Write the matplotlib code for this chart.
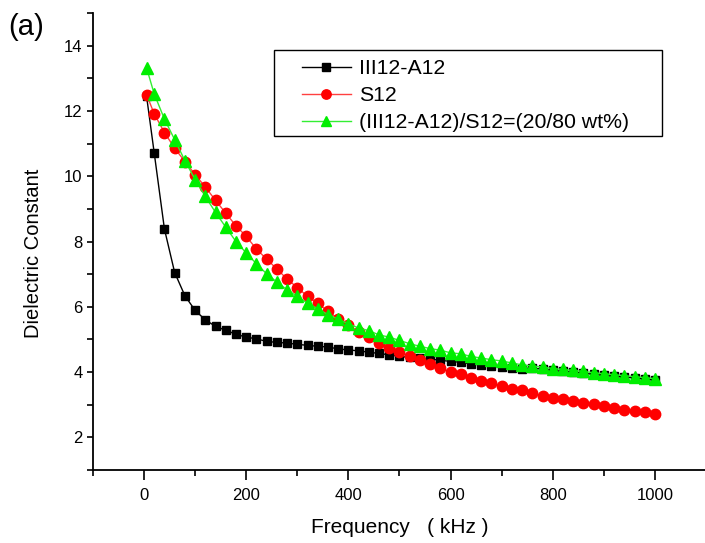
import numpy as np
import matplotlib
matplotlib.use("Agg")
import matplotlib.pyplot as plt
from matplotlib.ticker import MultipleLocator
from matplotlib.patches import Rectangle

plt.rcParams['font.family'] = ['Liberation Sans', 'DejaVu Sans']

# frequency (kHz)
freq = [5] + list(range(20, 1001, 20))

# III12-A12
eps_a = [12.45, 10.71, 8.38, 7.05, 6.34, 5.89, 5.60, 5.40, 5.28, 5.16,
         5.07, 5.02, 4.94, 4.91, 4.89, 4.85, 4.82, 4.79, 4.77, 4.71,
         4.68, 4.65, 4.61, 4.57, 4.53, 4.48, 4.45, 4.42, 4.40, 4.36,
         4.33, 4.30, 4.25, 4.22, 4.19, 4.17, 4.14, 4.11, 4.12, 4.09,
         4.05, 4.02, 4.00, 3.97, 3.93, 3.90, 3.87, 3.85, 3.82, 3.79,
         3.75]

# S12
eps_s = [12.50, 11.91, 11.34, 10.86, 10.45, 10.05, 9.67, 9.26, 8.87, 8.48,
         8.16, 7.77, 7.46, 7.16, 6.85, 6.59, 6.32, 6.11, 5.86, 5.64,
         5.45, 5.24, 5.07, 4.89, 4.75, 4.63, 4.48, 4.36, 4.25, 4.12,
         4.00, 3.94, 3.82, 3.74, 3.66, 3.56, 3.48, 3.44, 3.36, 3.27,
         3.20, 3.17, 3.10, 3.05, 3.02, 2.95, 2.90, 2.84, 2.81, 2.77,
         2.71]

# (III12-A12)/S12 = 20/80 wt%
eps_m = [13.32, 12.52, 11.75, 11.12, 10.48, 9.90, 9.38, 8.89, 8.44, 8.00,
         7.65, 7.32, 7.01, 6.76, 6.52, 6.32, 6.11, 5.94, 5.76, 5.62,
         5.48, 5.35, 5.27, 5.14, 5.07, 4.97, 4.87, 4.79, 4.72, 4.67,
         4.59, 4.56, 4.48, 4.43, 4.38, 4.34, 4.28, 4.22, 4.19, 4.15,
         4.11, 4.08, 4.05, 4.02, 3.98, 3.95, 3.92, 3.89, 3.86, 3.83,
         3.80]

labels = ['III12-A12', 'S12', '(III12-A12)/S12=(20/80 wt%)']

W, H = 705, 543
fig = plt.figure(figsize=(W / 100, H / 100), dpi=100)
ax = fig.add_axes([0.1318, 0.1344, 0.8697, 0.8416])

ax.plot(freq, eps_a, color='black', lw=1, marker='s', ms=6,
        markeredgecolor='black', label=labels[0])
ax.plot(freq, eps_s, color='#ff4040', lw=1, marker='o', ms=7.5,
        markerfacecolor='red', markeredgecolor='red', label=labels[1])
ax.plot(freq, eps_m, color='#33ee33', lw=1, marker='^', ms=8,
        markerfacecolor='#00ee00', markeredgecolor='#00ee00', label=labels[2])

ax.set_xlim(-100, 1100)
ax.set_ylim(1, 15)
ax.xaxis.set_major_locator(MultipleLocator(200))
ax.xaxis.set_minor_locator(MultipleLocator(100))
ax.yaxis.set_major_locator(MultipleLocator(2))
ax.yaxis.set_minor_locator(MultipleLocator(1))

for s in ['top', 'right']:
    ax.spines[s].set_visible(False)
for s in ['left', 'bottom']:
    ax.spines[s].set_linewidth(1.3)

ax.tick_params(axis='x', which='major', direction='out', length=7, width=1.2, labelsize=12, pad=6)
ax.tick_params(axis='x', which='minor', direction='out', length=4, width=1.2)
ax.tick_params(axis='y', which='both', direction='out', length=4, width=1.2, labelsize=12)

ax.set_xlabel('Frequency   ( kHz )', fontsize=15)
ax.set_ylabel('Dielectric Constant', fontsize=14.5)
ax.xaxis.set_label_coords(0.5, -0.105)
ax.yaxis.set_label_coords(-0.081, 0.475)

# legend without its own frame, frame drawn as a separate box
leg = ax.legend(loc='upper left', bbox_to_anchor=(302 / W, 1 - 59 / H),
                bbox_transform=fig.transFigure, fontsize=15.3, frameon=False,
                handlelength=2.3, handletextpad=0.4, labelspacing=0.38,
                borderpad=0, borderaxespad=0, markerscale=0.9)
fig.patches.append(Rectangle((274 / W, 1 - 136 / H), 388 / W, 86.5 / H,
                             transform=fig.transFigure, fill=False,
                             edgecolor='black', lw=1.0))

fig.text(0.011, 0.935, '(a)', fontsize=21)

fig.savefig('out.png', dpi=100)
